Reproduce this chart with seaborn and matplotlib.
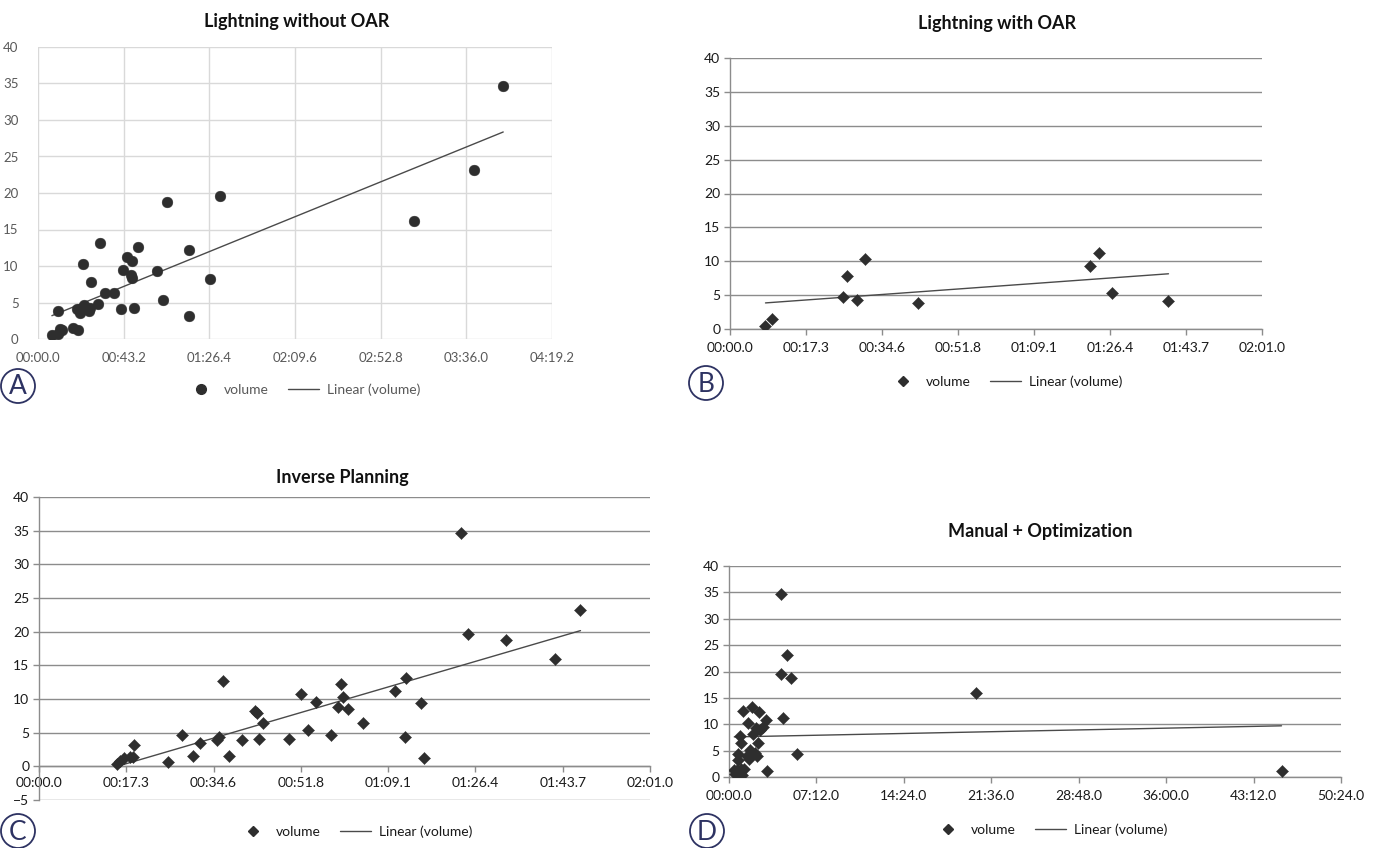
import numpy as np
import pandas as pd
import matplotlib
matplotlib.use("Agg")
import matplotlib.pyplot as plt
from matplotlib.lines import Line2D
from matplotlib.patches import Ellipse
import seaborn as sns

sns.set_theme(style="white")
plt.rcParams["font.family"] = ["Lato", "DejaVu Sans"]

# ---------------- data (time in seconds, volume) ----------------
a_time = [7.0, 9.9, 11.3, 12.2, 9.9, 17.4, 20.0, 19.7, 21.3, 23.3, 22.6, 25.8,
          26.1, 26.7, 30.5, 31.2, 34.0, 38.5, 41.8, 43.0, 44.8, 47.0, 47.2, 47.6,
          48.4, 50.3, 59.9, 63.2, 65.0, 76.1, 76.3, 86.6, 91.8, 189.4, 219.7, 234.6]
a_vol = [0.5, 0.7, 1.4, 1.2, 3.9, 1.5, 1.2, 4.1, 3.5, 4.7, 10.3, 3.9,
         4.2, 7.8, 4.8, 13.1, 6.3, 6.3, 4.1, 9.4, 11.2, 8.7, 8.4, 10.7,
         4.3, 12.6, 9.3, 5.4, 18.8, 12.2, 3.2, 8.2, 19.6, 16.1, 23.1, 34.7]

b_time = [8.07, 9.62, 25.8, 26.7, 28.9, 30.6, 42.7, 81.9, 83.9, 86.8, 99.7]
b_vol = [0.44, 1.42, 4.66, 7.84, 4.31, 10.3, 3.87, 9.36, 11.2, 5.34, 4.07]

c_time = [15.5, 16.0, 16.8, 18.1, 18.6, 18.9, 25.5, 28.4, 30.4, 31.9, 35.3, 35.6,
          36.5, 37.6, 40.1, 42.7, 43.1, 43.5, 44.4, 49.4, 51.8, 53.3, 54.8, 57.9,
          59.1, 59.8, 60.1, 61.1, 64.2, 70.5, 72.4, 72.7, 75.6, 76.2, 83.6, 84.9,
          92.4, 102.1, 107.2]
c_vol = [0.4, 0.8, 1.3, 1.4, 1.4, 3.2, 0.65, 4.66, 1.55, 3.5, 3.9, 4.3,
         12.6, 1.55, 3.9, 8.2, 7.85, 4.1, 6.4, 4.1, 10.8, 5.4, 9.5, 4.7,
         8.8, 12.3, 10.3, 8.5, 6.4, 11.2, 4.4, 13.1, 9.4, 1.3, 34.7, 19.6,
         18.8, 16.0, 23.2]

d_time = [26, 30, 38, 40, 44, 46, 50, 56, 58, 60, 64, 70, 74, 88, 94, 98, 102,
          106, 114, 120, 126, 132, 136, 144, 148, 154, 166, 182, 190, 256, 258,
          268, 286, 308, 336, 1222, 2730]
d_vol = [1.3, 0.65, 1.1, 1.4, 4.3, 3.2, 0.8, 7.8, 1.55, 6.4, 0.4, 12.6, 1.5,
         3.9, 10.2, 3.5, 4.2, 5.1, 13.2, 8.1, 4.5, 9.2, 4.0, 6.4, 12.3, 9.0,
         9.5, 10.8, 1.2, 19.6, 34.7, 11.2, 23.1, 18.7, 4.4, 16.0, 1.2]

titles = ["Lightning without OAR", "Lightning with OAR",
          "Inverse Planning", "Manual + Optimization"]
panel_letters = ["A", "B", "C", "D"]
legend_labels = ["volume", "Linear (volume)"]

a_xticklabels = ["00:00.0", "00:43.2", "01:26.4", "02:09.6", "02:52.8", "03:36.0", "04:19.2"]
bc_xticklabels = ["00:00.0", "00:17.3", "00:34.6", "00:51.8", "01:09.1", "01:26.4", "01:43.7", "02:01.0"]
d_xticklabels = ["00:00.0", "07:12.0", "14:24.0", "21:36.0", "28:48.0", "36:00.0", "43:12.0", "50:24.0"]

# ---------------- figure ----------------
W, H = 1387, 848
fig = plt.figure(figsize=(W / 100, H / 100), dpi=100)
fig.patch.set_facecolor("white")


def px_axes(left, top, right, bottom):
    return fig.add_axes([left / W, 1 - bottom / H, (right - left) / W, (bottom - top) / H])


NAVY = "#2d3262"
GRID07 = "#8c8c8c"
MARK = "#2e2e2e"
TREND = "#4a4a4a"


def draw_points(ax, t, v, marker, size, color):
    df = pd.DataFrame({"time": t, "volume": v})
    sns.scatterplot(data=df, x="time", y="volume", ax=ax, marker=marker, s=size,
                    color=color, edgecolor=color, linewidth=0.3, zorder=3, legend=False)
    sns.regplot(data=df, x="time", y="volume", ax=ax, scatter=False, ci=None,
                truncate=True, color=TREND, line_kws={"lw": 1.0, "zorder": 2})
    ax.set_xlabel("")
    ax.set_ylabel("")


def add_legend(ax, cx, cy, marker, msize, text_color):
    handles = [Line2D([], [], ls="none", marker=marker, markersize=msize, color=MARK),
               Line2D([], [], color=TREND, lw=1.0)]
    ax.legend(handles, legend_labels, loc="center", bbox_to_anchor=(cx / W, 1 - cy / H),
              bbox_transform=fig.transFigure, ncol=2, frameon=False, fontsize=10,
              handlelength=2.2, handletextpad=0.6, columnspacing=1.4, labelcolor=text_color)


def add_letter(cx, cy, letter):
    d = 34
    fig.add_artist(Ellipse((cx / W, 1 - cy / H), d / W, d / H, transform=fig.transFigure,
                           fc="none", ec=NAVY, lw=1.3))
    fig.text(cx / W, 1 - (cy + 1) / H, letter, ha="center", va="center", fontsize=19,
             color=NAVY, fontweight="normal")


def excel07_style(ax, xticks, xlabels, ymin):
    ax.set_yticks(np.arange(ymin, 41, 5))
    ax.yaxis.grid(True, color=GRID07, lw=1.0)
    ax.xaxis.grid(False)
    for s in ["top", "right"]:
        ax.spines[s].set_visible(False)
    for s in ["left", "bottom"]:
        ax.spines[s].set_color(GRID07)
        ax.spines[s].set_linewidth(1.0)
    ax.set_xticks(xticks)
    ax.set_xticklabels(xlabels)
    ax.tick_params(axis="both", which="major", direction="out", length=4, width=1.0,
                   color=GRID07, labelsize=10, labelcolor="#1a1a1a", pad=3,
                   bottom=True, left=True)
    ax.tick_params(axis="x", pad=5)


# ---------- A: Lightning without OAR ----------
axA = px_axes(38, 47, 552, 339)
draw_points(axA, a_time, a_vol, "o", 60, MARK)
a_step = 43.2
axA.set_xlim(0, a_step * (len(a_xticklabels) - 1))
axA.set_ylim(0, 40)
axA.set_xticks([a_step * i for i in range(len(a_xticklabels))])
axA.set_xticklabels(a_xticklabels)
axA.set_yticks(np.arange(0, 41, 5))
axA.grid(True, color="#d9d9d9", lw=1.0)
for s in axA.spines.values():
    s.set_visible(False)
axA.tick_params(axis="both", length=0, labelsize=9.5, labelcolor="#595959")
axA.tick_params(axis="x", pad=9)
axA.tick_params(axis="y", pad=14)
fig.text(297 / W, 1 - 21 / H, titles[0], ha="center", va="center",
         fontsize=13, fontweight="bold", color="#111111")
add_legend(axA, 303, 390, "o", 7, "#595959")
add_letter(18, 386, panel_letters[0])

# ---------- B: Lightning with OAR ----------
axB = px_axes(730, 58, 1262, 329)
draw_points(axB, b_time, b_vol, "D", 38, MARK)
bc_step = 17.28
axB.set_xlim(0, bc_step * (len(bc_xticklabels) - 1))
axB.set_ylim(0, 40)
excel07_style(axB, [bc_step * i for i in range(len(bc_xticklabels))], bc_xticklabels, 0)
fig.text(997 / W, 1 - 23 / H, titles[1], ha="center", va="center",
         fontsize=13, fontweight="bold", color="#111111")
add_legend(axB, 1005, 382, "D", 5.5, "#1a1a1a")
add_letter(706, 383, panel_letters[1])

# ---------- C: Inverse Planning ----------
axC = px_axes(39, 497, 650, 800)
draw_points(axC, c_time, c_vol, "D", 38, MARK)
axC.set_xlim(0, bc_step * (len(bc_xticklabels) - 1))
axC.set_ylim(-5, 40)
excel07_style(axC, [bc_step * i for i in range(len(bc_xticklabels))], bc_xticklabels, -5)
axC.spines["bottom"].set_position(("data", 0))
axC.tick_params(axis="x", pad=4)
fig.text(342 / W, 1 - 477 / H, titles[2], ha="center", va="center",
         fontsize=13, fontweight="bold", color="#111111")
add_legend(axC, 355, 832, "D", 5.5, "#1a1a1a")
add_letter(18, 831, panel_letters[2])

# ---------- D: Manual + Optimization ----------
axD = px_axes(729, 566, 1341, 777)
draw_points(axD, d_time, d_vol, "D", 38, MARK)
d_step = 432
axD.set_xlim(0, d_step * (len(d_xticklabels) - 1))
axD.set_ylim(0, 40)
excel07_style(axD, [d_step * i for i in range(len(d_xticklabels))], d_xticklabels, 0)
fig.text(1040 / W, 1 - 532 / H, titles[3], ha="center", va="center",
         fontsize=13, fontweight="bold", color="#111111")
add_legend(axD, 1050, 830, "D", 5.5, "#1a1a1a")
add_letter(707, 831, panel_letters[3])

fig.savefig("out.png", dpi=100, facecolor="white")
